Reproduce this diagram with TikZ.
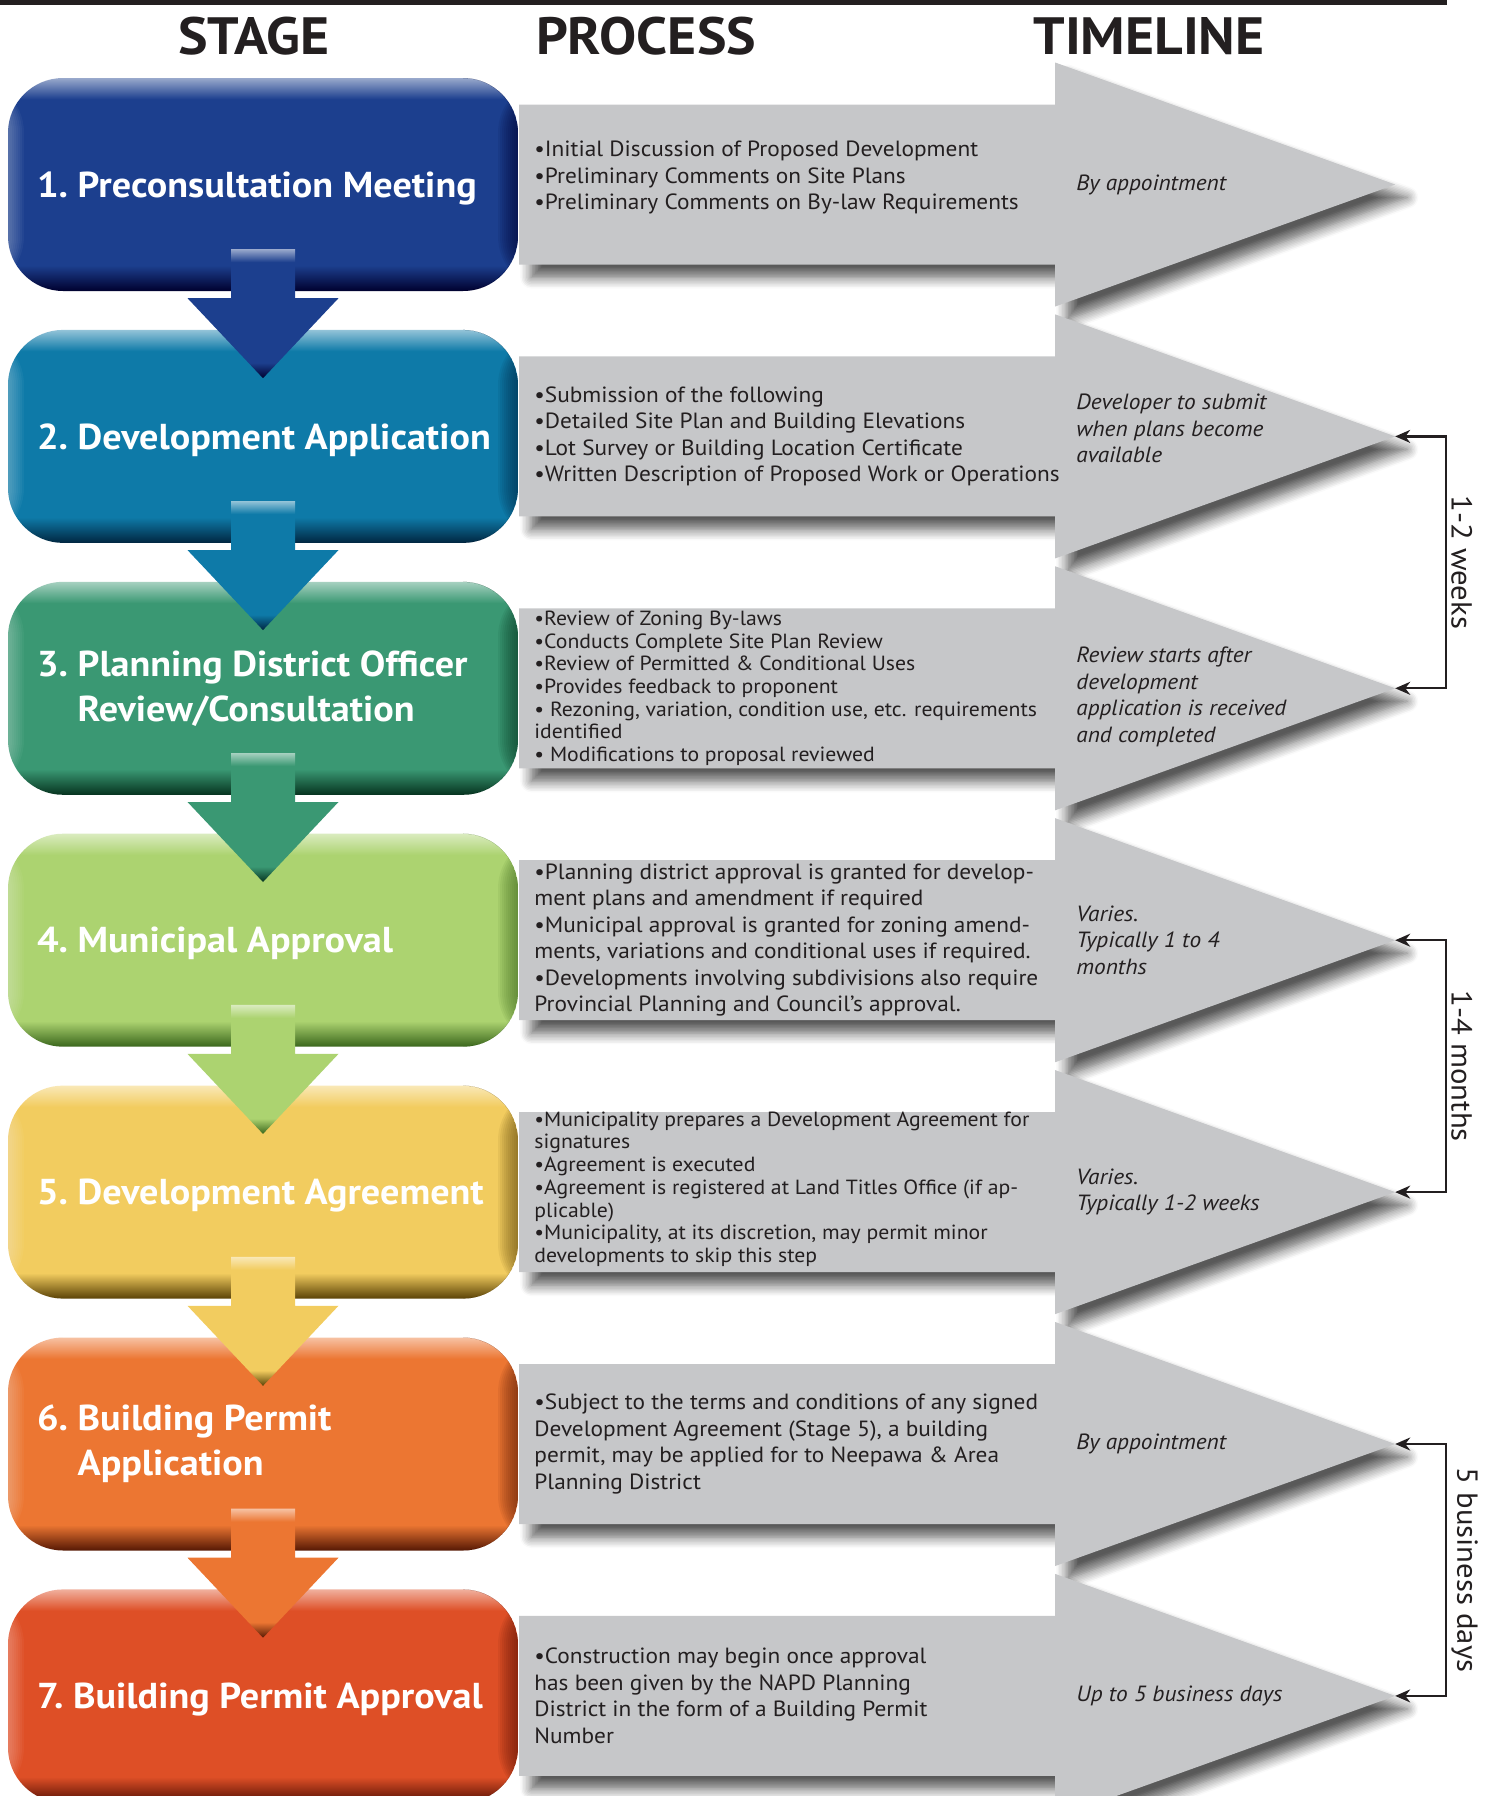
\documentclass[tikz,border=0pt]{standalone}
\usepackage{fontspec}
\setmainfont{PT Sans}[FakeStretch=1.06]
\usetikzlibrary{positioning,arrows.meta,shadows.blur}

\definecolor{inkgrey}{HTML}{231F20}
\definecolor{arrowgrey}{HTML}{C6C7C9}
\definecolor{preconsult}{HTML}{1C3F8E}\definecolor{preconsultdark}{HTML}{00002E}
\definecolor{devapp}{HTML}{0E7AA8}\definecolor{devappdark}{HTML}{012640}
\definecolor{pdo}{HTML}{3A9873}\definecolor{pdodark}{HTML}{06331F}
\definecolor{municipal}{HTML}{ACD370}\definecolor{municipaldark}{HTML}{3A661C}
\definecolor{agreement}{HTML}{F2CC5F}\definecolor{agreementdark}{HTML}{5A4206}
\definecolor{permitapp}{HTML}{EC7632}\definecolor{permitappdark}{HTML}{551804}
\definecolor{permitok}{HTML}{DE4F26}\definecolor{permitokdark}{HTML}{551004}
\colorlet{stagemain}{blue}
\colorlet{stagedark}{black}
\colorlet{stagelight}{white}
\pgfdeclareverticalshading[stagemain,stagedark,stagelight]{stageshade}{100bp}{%
  color(0bp)=(stagedark); color(25bp)=(stagedark); color(31bp)=(stagemain);
  color(70bp)=(stagemain); color(75bp)=(stagelight); color(100bp)=(stagelight)}

\tikzset{
  stagecol/.code 2 args={\colorlet{stagemain}{#1}\colorlet{stagedark}{#2}\colorlet{stagelight}{#1!45!white}},
  stagebox/.style 2 args={stagecol={#1}{#2}, rectangle, rounded corners=55pt, shading=stageshade,
    minimum width=510pt, minimum height=213pt, inner sep=0pt,
    path picture={
      \foreach \k in {1,...,10}
        \fill[stagedark, opacity=.08] ([xshift={-2pt*\k}]path picture bounding box.north east) rectangle (path picture bounding box.south east);
      \foreach \k in {1,...,8}
        \fill[white, opacity=.04] (path picture bounding box.north west) rectangle ([xshift={2pt*\k}]path picture bounding box.south west);}},
  stagetitle/.style={anchor=west, inner sep=0pt, align=left, text=white, font=\fontsize{36pt}{45pt}\selectfont\bfseries},
  downarrow/.style 2 args={stagecol={#1}{#2}, shading=stageshade},
  procarrow/.pic={\path[fill=arrowgrey, blur shadow={shadow xshift=12pt, shadow yshift=-13pt, shadow blur radius=11pt, shadow blur steps=8, shadow opacity=65}]
    (-876,-80) -- (-340,-80) -- (-340,-122) -- (0,0) -- (-340,122) -- (-340,80) -- (-876,80) -- cycle;},
  header/.style={anchor=base, text=inkgrey, font=\fontsize{52.5pt}{54pt}\selectfont\bfseries},
  proc/.style={inner sep=0pt, align=left, text=inkgrey, font=\fontsize{22pt}{26.5pt}\selectfont},
  procsmall/.style={proc, font=\fontsize{20.5pt}{22.7pt}\selectfont},
  timetext/.style={anchor=west, inner sep=0pt, align=left, text=inkgrey, font=\fontsize{22pt}{26.5pt}\selectfont\itshape},
  bracket/.style={draw=inkgrey, line width=2.3pt, arrows={Stealth[length=15pt,width=13pt]-Stealth[length=15pt,width=13pt]}},
  brlabel/.style={text=inkgrey, inner sep=4pt, font=\fontsize{29pt}{29pt}\selectfont}
}

\begin{document}
\begin{tikzpicture}[x=1pt, y=-1pt]
    \useasboundingbox (0,0) rectangle (1486,1796);
    \fill[inkgrey] (0,0) rectangle (1447,4.5);
    \node[header] (stage_h) at (254,54) {STAGE};
    \node[header] (process_h) at (646,54) {PROCESS};
    \node[header] (timeline_h) at (1149,54) {TIMELINE};

    \node[stagebox={preconsult}{preconsultdark}] (stage1) at (263,184.5) {};
    \node[stagebox={devapp}{devappdark}, below=38.5pt of stage1] (stage2) {};
    \node[stagebox={pdo}{pdodark}, below=38.5pt of stage2] (stage3) {};
    \node[stagebox={municipal}{municipaldark}, below=38.5pt of stage3] (stage4) {};
    \node[stagebox={agreement}{agreementdark}, below=38.5pt of stage4] (stage5) {};
    \node[stagebox={permitapp}{permitappdark}, below=38.5pt of stage5] (stage6) {};
    \node[stagebox={permitok}{permitokdark}, below=38.5pt of stage6] (stage7) {};
    \node[stagetitle, yshift=-3.5pt] (title1) at ([xshift=29pt]stage1.west) {1.~Preconsultation Meeting};
    \node[stagetitle, yshift=-3.5pt] (title2) at ([xshift=29pt]stage2.west) {2.~Development Application};
    \node[stagetitle] (title3) at ([xshift=29pt]stage3.west) {3.~Planning District Officer\\\phantom{3.~}Review/Consultation};
    \node[stagetitle, yshift=-3.5pt] (title4) at ([xshift=29pt]stage4.west) {4.~Municipal Approval};
    \node[stagetitle, yshift=-3.5pt] (title5) at ([xshift=29pt]stage5.west) {5.~Development Agreement};
    \node[stagetitle] (title6) at ([xshift=29pt]stage6.west) {6.~Building Permit\\\phantom{6.~}Application};
    \node[stagetitle, yshift=-3.5pt] (title7) at ([xshift=29pt]stage7.west) {7.~Building Permit Approval};

    \path[downarrow={preconsult}{preconsultdark}] ([shift={(-32,-42)}]stage1.south) -- ++(64,0) -- ++(0,49) -- ++(43.5,0) -- ++(-75.5,80) -- ++(-75.5,-80) -- ++(43.5,0) -- cycle;
    \path[downarrow={devapp}{devappdark}] ([shift={(-32,-42)}]stage2.south) -- ++(64,0) -- ++(0,49) -- ++(43.5,0) -- ++(-75.5,80) -- ++(-75.5,-80) -- ++(43.5,0) -- cycle;
    \path[downarrow={pdo}{pdodark}] ([shift={(-32,-42)}]stage3.south) -- ++(64,0) -- ++(0,49) -- ++(43.5,0) -- ++(-75.5,80) -- ++(-75.5,-80) -- ++(43.5,0) -- cycle;
    \path[downarrow={municipal}{municipaldark}] ([shift={(-32,-42)}]stage4.south) -- ++(64,0) -- ++(0,49) -- ++(43.5,0) -- ++(-75.5,80) -- ++(-75.5,-80) -- ++(43.5,0) -- cycle;
    \path[downarrow={agreement}{agreementdark}] ([shift={(-32,-42)}]stage5.south) -- ++(64,0) -- ++(0,49) -- ++(43.5,0) -- ++(-75.5,80) -- ++(-75.5,-80) -- ++(43.5,0) -- cycle;
    \path[downarrow={permitapp}{permitappdark}] ([shift={(-32,-42)}]stage6.south) -- ++(64,0) -- ++(0,49) -- ++(43.5,0) -- ++(-75.5,80) -- ++(-75.5,-80) -- ++(43.5,0) -- cycle;

    \coordinate[right=877pt of stage1] (tip1);
    \coordinate[right=877pt of stage2] (tip2);
    \coordinate[right=877pt of stage3] (tip3);
    \coordinate[right=877pt of stage4] (tip4);
    \coordinate[right=877pt of stage5] (tip5);
    \coordinate[right=877pt of stage6] (tip6);
    \coordinate[right=877pt of stage7] (tip7);
    \pic at (tip1) {procarrow};
    \pic at (tip2) {procarrow};
    \pic at (tip3) {procarrow};
    \pic at (tip4) {procarrow};
    \pic at (tip5) {procarrow};
    \pic at (tip6) {procarrow};
    \pic at (tip7) {procarrow};

    \node[proc, right=16pt of stage1, yshift=7pt] (proc1) {•Initial Discussion of Proposed Development\\•Preliminary Comments on Site Plans\\•Preliminary Comments on By-law Requirements};
    \node[proc, right=16pt of stage2] (proc2) {•Submission of the following\\•Detailed Site Plan and Building Elevations\\•Lot Survey or Building Location Certificate\\•Written Description of Proposed Work or Operations};
    \node[procsmall, right=16pt of stage3] (proc3) {•Review of Zoning By-laws\\•Conducts Complete Site Plan Review\\•Review of Permitted \& Conditional Uses\\•Provides feedback to proponent\\• Rezoning, variation, condition use, etc. requirements\\identified\\• Modifications to proposal reviewed};
    \node[proc, right=16pt of stage4] (proc4) {•Planning district approval is granted for develop-\\ment plans and amendment if required\\•Municipal approval is granted for zoning amend-\\ments, variations and conditional uses if required.\\•Developments involving subdivisions also require\\Provincial Planning and Council's approval.};
    \node[procsmall, right=16pt of stage5, yshift=3pt] (proc5) {•Municipality prepares a Development Agreement for\\signatures\\•Agreement is executed\\•Agreement is registered at Land Titles Office (if ap-\\plicable)\\•Municipality, at its discretion, may permit minor\\developments to skip this step};
    \node[proc, right=16pt of stage6] (proc6) {•Subject to the terms and conditions of any signed\\Development Agreement (Stage 5), a building\\permit, may be applied for to Neepawa \& Area\\Planning District};
    \node[proc, right=16pt of stage7] (proc7) {•Construction may begin once approval\\has been given by the NAPD Planning\\District in the form of a Building Permit\\Number};

    \node[timetext] (time1) at ([xshift=-319pt]tip1) {By appointment};
    \node[timetext, yshift=8pt] (time2) at ([xshift=-319pt]tip2) {Developer to submit\\when plans become\\available};
    \node[timetext, yshift=-8.5pt] (time3) at ([xshift=-319pt]tip3) {Review starts after\\development\\application is received\\and completed};
    \node[timetext] (time4) at ([xshift=-319pt]tip4) {Varies.\\Typically 1 to 4\\months};
    \node[timetext] (time5) at ([xshift=-319pt]tip5) {Varies.\\Typically 1-2 weeks};
    \node[timetext] (time6) at ([xshift=-319pt]tip6) {By appointment};
    \node[timetext] (time7) at ([xshift=-319pt]tip7) {Up to 5 business days};

    \draw[bracket] (tip2) -- ++(51,0) |- (tip3) node[brlabel, pos=.25, rotate=-90, anchor=south] (weeks) {1-2 weeks};
    \draw[bracket] (tip4) -- ++(51,0) |- (tip5) node[brlabel, pos=.25, rotate=-90, anchor=south] (months) {1-4 months};
    \draw[bracket] (tip6) -- ++(51,0) |- (tip7) node[brlabel, pos=.25, rotate=-90, anchor=south] (days) {5 business days};
\end{tikzpicture}
\end{document}
